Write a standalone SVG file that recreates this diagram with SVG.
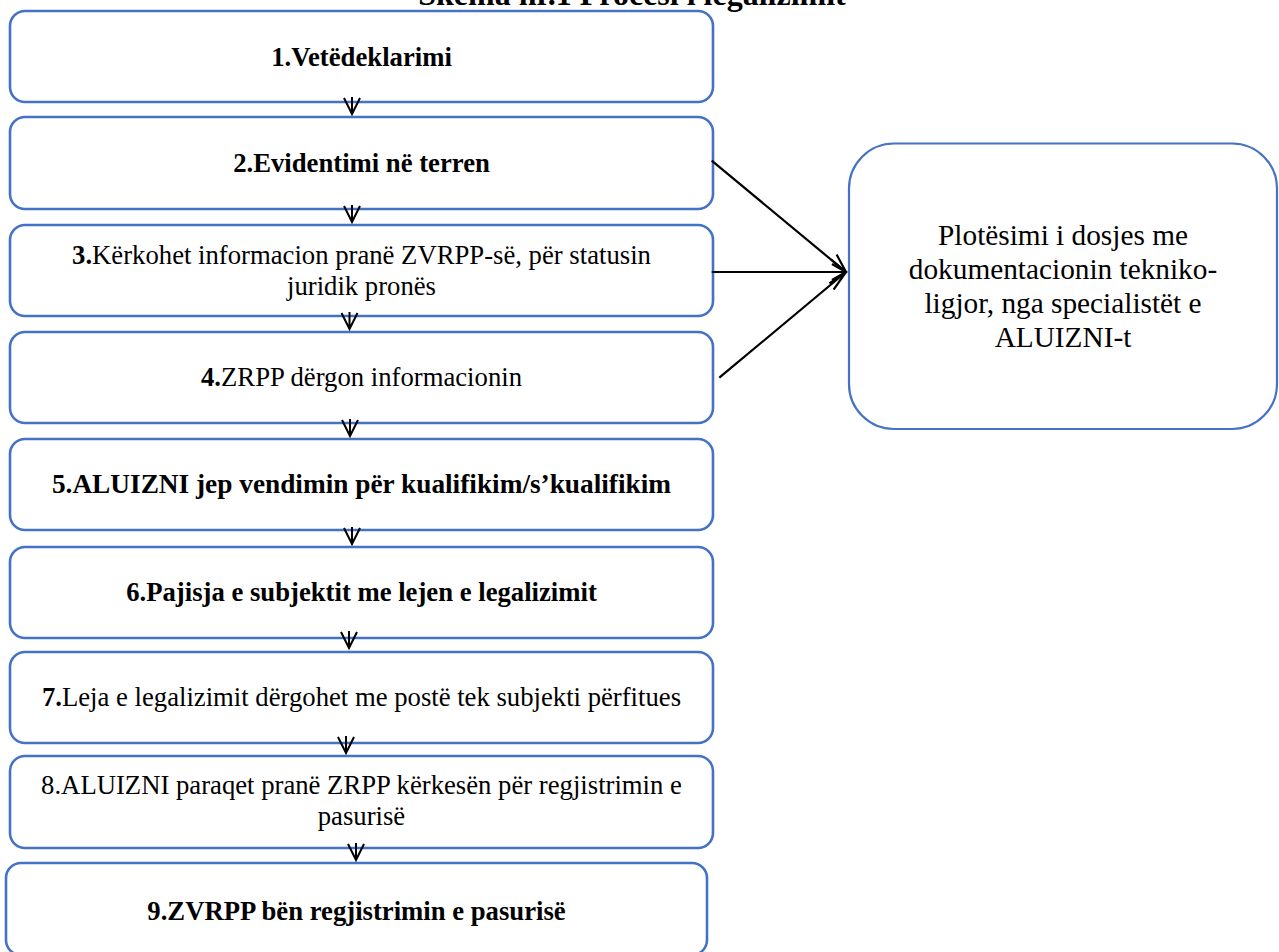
<svg xmlns="http://www.w3.org/2000/svg" width="1279" height="952" viewBox="0 0 1279 952">
<style>
.box{fill:#fff;stroke:#4472C4;stroke-width:2.6}
.rbox{fill:#fff;stroke:#4472C4;stroke-width:2.2}
.t{font-family:"Liberation Serif","Times New Roman",serif;font-size:26.7px;fill:#000;text-anchor:middle}
.b{font-weight:bold}
.rt{font-family:"Liberation Serif","Times New Roman",serif;font-size:29.3px;fill:#000;text-anchor:middle}
.title{font-family:"Liberation Serif","Times New Roman",serif;font-size:32px;font-weight:bold;fill:#000;text-anchor:middle}
.ar{fill:none;stroke:#000;stroke-width:2}
.cn{fill:none;stroke:#000;stroke-width:2.2}
</style>
<rect width="1279" height="952" fill="#fff"/>
<text class="title" x="632" y="5">Skema nr.1 Procesi i legalizimit</text>
<g id="n1"><rect class="box" x="10" y="11" width="703" height="91" rx="15"/><text class="t b" x="361.5" y="66">1.Vetëdeklarimi</text></g>
<g id="n2"><rect class="box" x="10" y="117" width="703" height="92" rx="15"/><text class="t b" x="361.5" y="172">2.Evidentimi në terren</text></g>
<g id="n3"><rect class="box" x="10" y="225" width="703" height="91" rx="15"/><text class="t" x="361.5" y="264"><tspan font-weight="bold">3.</tspan>Kërkohet informacion pranë ZVRPP-së, për statusin</text><text class="t" x="361.5" y="295">juridik pronës</text></g>
<g id="n4"><rect class="box" x="10" y="332" width="703" height="91" rx="15"/><text class="t" x="361.5" y="386"><tspan font-weight="bold">4.</tspan>ZRPP dërgon informacionin</text></g>
<g id="n5"><rect class="box" x="10" y="439" width="703" height="91" rx="15"/><text class="t b" x="361.5" y="493" style="font-size:27.3px">5.ALUIZNI jep vendimin për kualifikim/s’kualifikim</text></g>
<g id="n6"><rect class="box" x="10" y="547" width="703" height="91" rx="15"/><text class="t b" x="361.5" y="601">6.Pajisja e subjektit me lejen e legalizimit</text></g>
<g id="n7"><rect class="box" x="10" y="652" width="703" height="91" rx="15"/><text class="t" x="361.5" y="706"><tspan font-weight="bold">7.</tspan>Leja e legalizimit dërgohet me postë tek subjekti përfitues</text></g>
<g id="n8"><rect class="box" x="10" y="756" width="703" height="92" rx="15"/><text class="t" x="361.5" y="794">8.ALUIZNI paraqet pranë ZRPP kërkesën për regjistrimin e</text><text class="t" x="361.5" y="825">pasurisë</text></g>
<g id="n9"><rect class="box" x="6" y="863" width="701" height="92" rx="15"/><text class="t b" x="356.5" y="920">9.ZVRPP bën regjistrimin e pasurisë</text></g>
<g id="n10"><rect class="rbox" x="849" y="143.5" width="428" height="285.5" rx="45"/>
<text class="rt" x="1063" y="245">Plotësimi i dosjes me</text>
<text class="rt" x="1063" y="279">dokumentacionin tekniko-</text>
<text class="rt" x="1063" y="313">ligjor, nga specialistët e</text>
<text class="rt" x="1063" y="347">ALUIZNI-t</text></g>
<g id="connectors">
<path class="ar" d="M352,97 L352,114 M344,98 L352,114 L360,98"/>
<path class="ar" d="M352,205 L352,222 M344,206 L352,222 L360,206"/>
<path class="ar" d="M349.5,312 L349.5,329 M341.5,313 L349.5,329 L357.5,313"/>
<path class="ar" d="M350,419 L350,436 M342,420 L350,436 L358,420"/>
<path class="ar" d="M352,527 L352,544 M344,528 L352,544 L360,528"/>
<path class="ar" d="M349,631 L349,648 M341,632 L349,648 L357,632"/>
<path class="ar" d="M346,736 L346,753 M338,737 L346,753 L354,737"/>
<path class="ar" d="M356,843 L356,860 M348,844 L356,860 L364,844"/>
<path class="cn" d="M711.7,160.7 L846,272"/>
<path class="cn" d="M711.7,272 L846,272"/>
<path class="cn" d="M719.3,377.7 L846,272"/>
<path class="cn" d="M831,259.5 L846,272 L836.6,254.6"/>
<path class="cn" d="M832,264 L846,272 L832,280"/>
<path class="cn" d="M833.6,289.6 L846,272 L829.4,283.4"/>
</g>
</svg>
